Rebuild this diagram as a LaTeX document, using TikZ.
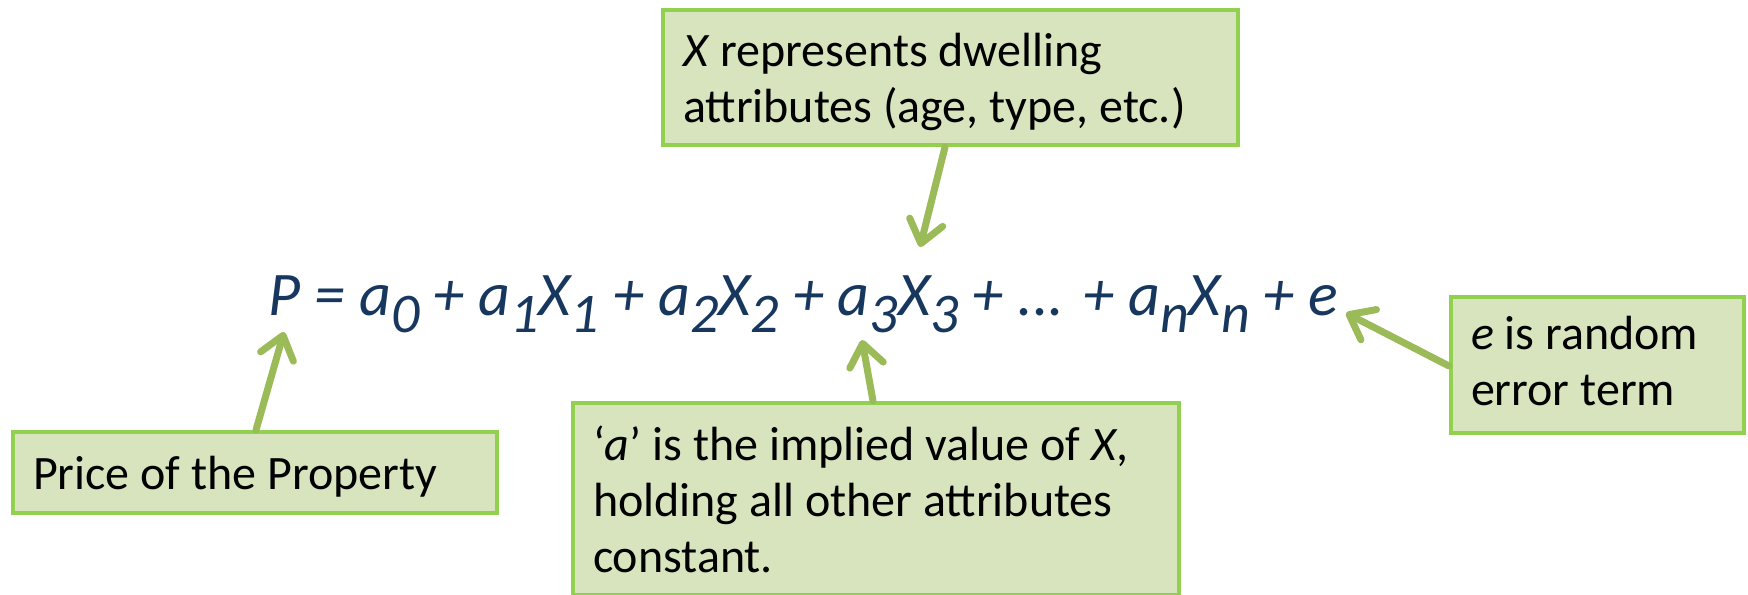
\documentclass[tikz,border=0pt]{standalone}
\usepackage{fontspec}
\setmainfont{Carlito}
\usetikzlibrary{arrows.meta,calc}
\definecolor{boxfill}{HTML}{D7E4BD}
\definecolor{boxline}{HTML}{92D050}
\definecolor{arrowc}{HTML}{9BBB59}
\definecolor{eqc}{HTML}{17375E}
\newcommand{\sbs}[1]{\raisebox{-8.5pt}{\fontsize{28}{28}\selectfont #1}}
\newcommand{\textlines}[1]{\vbox{\baselineskip=28pt\lineskiplimit=-100pt\lineskip=0pt #1}}
\tikzset{
  note/.style={draw=boxline, line width=2pt, fill=boxfill, anchor=north west,
    align=left, inner xsep=10pt, inner ysep=0pt, text=black,
    execute at begin node={\hfuzz=200pt\fontsize{24}{28}\selectfont\spaceskip=0pt\xspaceskip=0pt}},
  conn/.style={draw=arrowc, line width=3.5pt, line cap=round, line join=round,
    -{Straight Barb[length=11pt,width=17pt,line cap=round,line join=round]}},
}
\begin{document}
\begin{tikzpicture}[x=0.5pt,y=-0.5pt]
\useasboundingbox (0,0) rectangle (1748,594);
% equation
\node[anchor=base west, inner sep=0pt, text=eqc, font=\fontsize{31}{36}\selectfont\itshape] (eq) at (268,315)
  {P = a\sbs{0} + a\sbs{1}X\sbs{1} + a\sbs{2}X\sbs{2} + a\sbs{3}X\sbs{3} + ... + a\sbs{n}X\sbs{n} + e};
% boxes
\node[note, minimum width=575*0.5pt, minimum height=135*0.5pt, text width=575*0.5pt-20pt] (xbox) at (661,8)
  {\textlines{\kern4.5pt\hbox{\textit{X} represents dwelling}\hbox{attributes (age, type, etc.)}}};
\node[note, minimum width=484*0.5pt, minimum height=81*0.5pt, text width=484*0.5pt-20pt] (price) at (11,430)
  {\textlines{\kern4.5pt\hbox{Price of the Property}}};
\node[note, minimum width=606*0.5pt, minimum height=192*0.5pt, text width=606*0.5pt-20pt] (abox) at (571,401)
  {\textlines{\hbox{‘\textit{a}’ is the implied value of \textit{X},}\hbox{holding all other attributes}\hbox{constant.}}};
\node[note, minimum width=293*0.5pt, minimum height=136*0.5pt, text width=293*0.5pt-20pt] (ebox) at (1449,295)
  {\textlines{\hbox{\textit{e} is random}\hbox{error term}\kern4pt}};
% tips
\coordinate (tipP) at (284,332);
\coordinate (tipX) at (920,247);
\coordinate (tipA) at (862,340);
\coordinate (tipE) at (1346,313);
% connectors
\draw[conn] ($(price.north west)+(245,0)$) -- (tipP);
\draw[conn] ($(xbox.south west)+(284,0)$) -- (tipX);
\draw[conn] ($(abox.north west)+(302,0)$) -- (tipA);
\draw[conn] ($(ebox.north west)+(0,71)$) -- (tipE);
\end{tikzpicture}
\end{document}
